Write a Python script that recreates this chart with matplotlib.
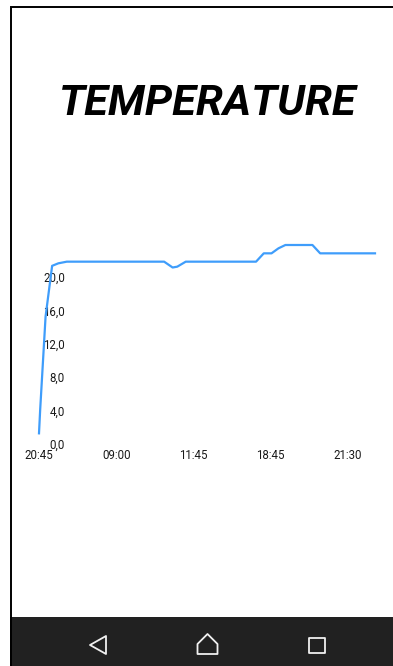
import matplotlib
matplotlib.use('Agg')
import matplotlib.pyplot as plt
from matplotlib.patches import Polygon, Rectangle
from matplotlib.transforms import ScaledTranslation

# chart values (x in samples, 10 samples per time label)
sample_pos = [0, 0.15, 0.85, 1.7, 2.5, 3.6, 16.2, 17.3, 17.9, 19.0, 28.1, 29.1, 30.1, 31.0, 31.9, 35.4, 36.4, 43.5]
temperature = [1.4, 4.2, 15.4, 21.5, 21.8, 22.0, 22.0, 21.3, 21.4, 22.0, 22.0, 23.0, 23.0, 23.6, 24.0, 24.0, 23.0, 23.0]
time_ticks = [0, 10, 20, 30, 40]
time_labels = ['20:45', '09:00', '11:45', '18:45', '21:30']
temp_ticks = [0, 4, 8, 12, 16, 20]
temp_labels = ['0,0', '4,0', '8,0', '12,0', '16,0', '20,0']

W, H = 393, 666
plt.rcParams['font.family'] = ['Roboto', 'DejaVu Sans']

fig = plt.figure(figsize=(W / 100, H / 100), dpi=100, facecolor='white')

# pixel canvas for the phone screen around the chart
bg = fig.add_axes([0, 0, 1, 1])
bg.set_xlim(0, W)
bg.set_ylim(H, 0)
bg.axis('off')
bg.plot([10.5, 10.5, W], [H, 6.5, 6.5], color='black', lw=1.4, solid_joinstyle='miter')
bg.add_patch(Rectangle((10, 617), W - 10, 49, facecolor='#212121', edgecolor='none'))
icon_style = dict(fill=False, edgecolor='#f0f0f0', lw=1.3, joinstyle='round')
bg.add_patch(Polygon([(90, 645), (106, 636), (106, 654)], **icon_style))
bg.add_patch(Polygon([(197.5, 654), (197.5, 644), (207.5, 634), (217.5, 644), (217.5, 654)], **icon_style))
bg.add_patch(Polygon([(308.5, 637.5), (325, 637.5), (325, 652.5), (308.5, 652.5)], **icon_style))
bg.text(207.5, 115, 'TEMPERATURE', fontsize=31.3, fontweight='bold', fontstyle='italic',
        ha='center', va='baseline', color='black')

# chart area: x from 39 to 375 px, y from 445 to 230 px
ax = fig.add_axes([39 / W, 1 - 445 / H, (375 - 39) / W, (445 - 230) / H])
ax.patch.set_alpha(0)
ax.set_xlim(0, 43.5)
ax.set_ylim(0, 25.8)
ax.plot(sample_pos, temperature, color='#3f9dfb', lw=1.6, clip_on=False, solid_joinstyle='round')

for side in ax.spines.values():
    side.set_visible(False)
ax.set_xticks(time_ticks, time_labels)
ax.set_yticks(temp_ticks, temp_labels)
ax.tick_params(axis='x', length=0, pad=3.2, labelsize=8.3, labelcolor='#1a1a1a')
ax.tick_params(axis='y', length=0, pad=-18.6, labelsize=8.3, labelcolor='#1a1a1a')

# y labels sit a little above their tick position
lift = ScaledTranslation(0, 1.2 / 100, fig.dpi_scale_trans)
for lab in ax.get_yticklabels():
    lab.set_transform(lab.get_transform() + lift)

fig.savefig('out.png', dpi=100)
